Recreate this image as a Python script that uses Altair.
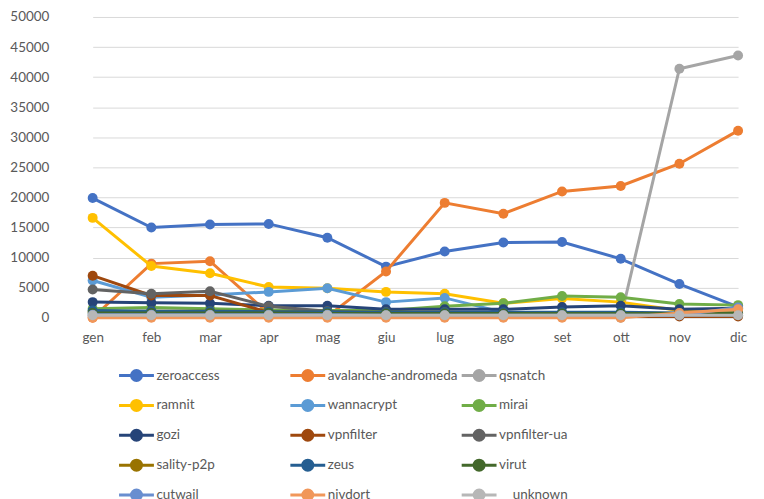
import altair as alt
import pandas as pd

months = ["gen", "feb", "mar", "apr", "mag", "giu", "lug", "ago", "set", "ott", "nov", "dic"]

series_names = [
    "zeroaccess", "avalanche-andromeda", "qsnatch",
    "ramnit", "wannacrypt", "mirai",
    "gozi", "vpnfilter", "vpnfilter-ua",
    "sality-p2p", "zeus", "virut",
    "cutwail", "nivdort", "\u200b\u00a0\u00a0\u00a0\u00a0unknown",
]
series_colors = [
    "#4472C4", "#ED7D31", "#A5A5A5",
    "#FFC000", "#5B9BD5", "#70AD47",
    "#264478", "#9E480E", "#636363",
    "#997300", "#255E91", "#43682B",
    "#698ED0", "#F1975A", "#B7B7B7",
]

zeroaccess = [19900, 15000, 15500, 15600, 13300, 8500, 11000, 12500, 12600, 9800, 5600, 1800]
avalanche_andromeda = [0, 9000, 9400, 700, 200, 7700, 19100, 17300, 21000, 21900, 25600, 31100]
qsnatch = [300, 300, 300, 300, 300, 300, 300, 300, 300, 0, 41400, 43600]
ramnit = [16600, 8600, 7400, 5100, 4900, 4300, 4000, 2400, 3200, 2600, 1200, 1000]
wannacrypt = [6200, 3400, 3800, 4300, 4900, 2600, 3300, 900, 700, 600, 500, 1800]
mirai = [1500, 1700, 1500, 1300, 1200, 1200, 1900, 2400, 3600, 3400, 2300, 2100]
gozi = [2600, 2500, 2400, 2000, 2000, 1400, 1400, 1400, 1800, 2000, 1400, 1600]
vpnfilter = [7000, 3700, 3700, 900, 300, 200, 200, 200, 200, 200, 200, 200]
vpnfilter_ua = [4700, 4000, 4400, 1900, 1100, 700, 500, 400, 400, 400, 400, 400]
sality_p2p = [1000, 1100, 1100, 1000, 1000, 900, 900, 800, 800, 800, 700, 700]
zeus = [1200, 1100, 1100, 1000, 1000, 900, 900, 900, 900, 900, 800, 800]
virut = [800, 800, 800, 800, 700, 700, 700, 700, 700, 700, 700, 700]
cutwail = [500, 500, 500, 500, 500, 400, 400, 400, 400, 400, 400, 1700]
nivdort = [0, 0, 0, 0, 0, 0, 0, 0, 0, 0, 800, 1400]
unknown = [400, 400, 400, 400, 400, 400, 400, 400, 400, 400, 400, 400]

series_values = [
    zeroaccess, avalanche_andromeda, qsnatch,
    ramnit, wannacrypt, mirai,
    gozi, vpnfilter, vpnfilter_ua,
    sality_p2p, zeus, virut,
    cutwail, nivdort, unknown,
]

y_ticks = [0, 5000, 10000, 15000, 20000, 25000, 30000, 35000, 40000, 45000, 50000]

FONT = "Lato"
TXT = "#595959"

r = 0.2857
legend_path = f"M-1,0H1M-{r},0A{r},{r},0,1,0,{r},0A{r},{r},0,1,0,-{r},0Z"

color_scale = alt.Scale(domain=series_names, range=series_colors)
legend = alt.Legend(
    orient="none",
    legendX=54,
    legendY=341,
    columns=3,
    direction="horizontal",
    gridAlign="all",
    title=None,
    symbolType=legend_path,
    symbolSize=1225,
    symbolStrokeWidth=3,
    symbolOpacity=1,
    labelFont=FONT,
    labelFontSize=13.5,
    labelColor=TXT,
    labelOffset=1,
    labelLimit=0,
    columnPadding=-3,
    rowPadding=0,
    padding=0,
)

x_enc = alt.X(
    "month:N",
    sort=months,
    scale=alt.Scale(type="point", range=[29, 677], padding=0),
    axis=alt.Axis(
        title=None, labelAngle=0, domain=False, ticks=False, grid=False,
        labelPadding=13, labelFont=FONT, labelFontSize=13.5, labelColor=TXT,
    ),
)
y_enc = alt.Y(
    "value:Q",
    scale=alt.Scale(domain=[0, 50000], nice=False),
    axis=alt.Axis(
        title=None, values=y_ticks, format="d", domain=False, ticks=False,
        grid=True, gridColor="#D9D9D9", gridWidth=1,
        labelPadding=15, labelFont=FONT, labelFontSize=13.5, labelColor=TXT,
    ),
)

layers = []
for name, vals in zip(series_names, series_values):
    df = pd.DataFrame({"month": months, "value": vals, "series": name})
    line = alt.Chart(df).mark_line(strokeWidth=3).encode(
        x=x_enc,
        y=y_enc,
        stroke=alt.Stroke("series:N", scale=color_scale, legend=legend),
    )
    pts = alt.Chart(df).mark_circle(size=100, opacity=1).encode(
        x=x_enc,
        y=y_enc,
        fill=alt.Fill("series:N", scale=color_scale, legend=legend),
    )
    layers.append(line)
    layers.append(pts)

chart = alt.layer(*layers).properties(
    width=695,
    height=302,
    padding={"left": 1, "top": 1, "right": 0, "bottom": 0},
).configure_view(stroke=None)

chart.save("out.html", embed_options={"renderer": "svg", "actions": False})
